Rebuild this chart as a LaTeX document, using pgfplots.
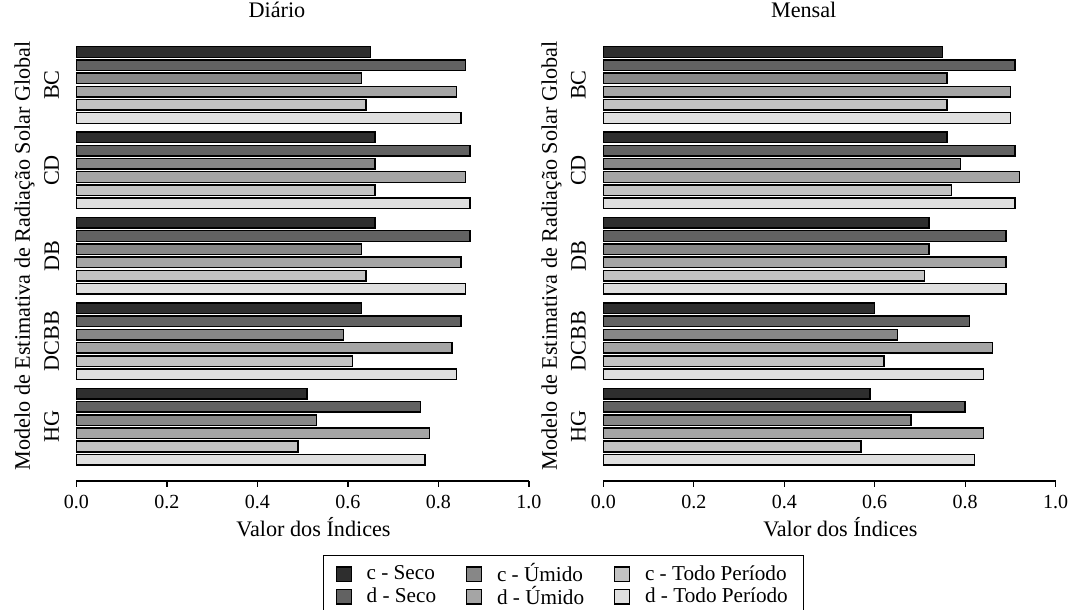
\documentclass[border=0pt]{standalone}
\usepackage{fontspec}
\setmainfont{Liberation Serif}
\usepackage{pgfplots}
\pgfplotsset{compat=1.18}
\usepackage{pgfplotstable}

\definecolor{cS}{HTML}{2E2E2E}
\definecolor{dS}{HTML}{626262}
\definecolor{cU}{HTML}{878787}
\definecolor{dU}{HTML}{A5A5A5}
\definecolor{cT}{HTML}{C3C3C3}
\definecolor{dT}{HTML}{DFDFDF}

\newcommand\lab{\fontsize{11.1}{13.3}\selectfont}
\newcommand\tck{\fontsize{10}{12}\selectfont}
\newcommand\leg{\fontsize{10.6}{12.7}\selectfont}

% y: 4=BC, 3=CD, 2=DB, 1=DCBB, 0=HG
\pgfplotstableread{
y cS dS cU dU cT dT
4 0.65 0.86 0.63 0.84 0.64 0.85
3 0.66 0.87 0.66 0.86 0.66 0.87
2 0.66 0.87 0.63 0.85 0.64 0.86
1 0.63 0.85 0.59 0.83 0.61 0.84
0 0.51 0.76 0.53 0.78 0.49 0.77
}\diario

\pgfplotstableread{
y cS dS cU dU cT dT
4 0.75 0.91 0.76 0.90 0.76 0.90
3 0.76 0.91 0.79 0.92 0.77 0.91
2 0.72 0.89 0.72 0.89 0.71 0.89
1 0.60 0.81 0.65 0.86 0.62 0.84
0 0.59 0.80 0.68 0.84 0.57 0.82
}\mensal

\pgfplotsset{
  panel/.style={
    xbar, scale only axis, width=226.2pt, height=225.15pt,
    anchor=south west,
    xmin=0, xmax=1, ymin=-0.636, ymax=4.636, clip=false,
    axis lines*=left,
    y axis line style={draw=none},
    x axis line style={line width=0.7pt},
    xtick={0,0.2,0.4,0.6,0.8,1},
    xticklabels={0.0,0.2,0.4,0.6,0.8,1.0},
    tick align=outside, major tick length=3pt,
    xtick style={black, line width=0.7pt},
    ytick={0,1,2,3,4},
    yticklabels={HG,DCBB,DB,CD,BC},
    ytick style={draw=none},
    yticklabel style={xshift=-5.5pt, rotate=90, anchor=south, inner sep=0pt, font=\lab},
    xticklabel style={anchor=base, yshift=-11pt, inner sep=0pt, font=\tck},
    bar width=0.124,
    ylabel={Modelo de Estimativa de Radiação Solar Global},
    ylabel style={at={(axis description cs:-0.1028,0.5)}, anchor=base, font=\lab},
    xlabel={Valor dos Índices},
    xlabel style={at={(axis description cs:0.524,0)}, anchor=base, yshift=-28pt, font=\lab},
    title style={at={(axis description cs:0.443,1)}, anchor=base, yshift=0.6pt, font=\lab},
  },
  sbar/.style={draw=black, line width=0.75pt, fill=#1, forget plot},
}

\begin{document}
\begin{tikzpicture}
\path[use as bounding box] (0,0) rectangle (536.5pt,305pt);

\begin{axis}[panel, at={(38.25pt,64.5pt)}, title={Diário},
  legend style={at={(0.5454,-0.165)}, anchor=north west, draw=black,
    line width=0.5pt, font=\leg, inner xsep=6pt, inner ysep=2pt,
    row sep=-3.5pt,
    /tikz/every even column/.append style={column sep=13pt},
    /tikz/every odd column/.append style={column sep=5.5pt}},
  legend columns=3, legend cell align=left,
  legend image code/.code={\draw[#1, line width=0.55pt] (0pt,-3.7pt) rectangle (7.4pt,3.7pt);}
]
\addplot[sbar=cS, bar shift=0.3865]  table[x=cS, y=y] {\diario};
\addplot[sbar=dS, bar shift=0.2319]  table[x=dS, y=y] {\diario};
\addplot[sbar=cU, bar shift=0.0773]  table[x=cU, y=y] {\diario};
\addplot[sbar=dU, bar shift=-0.0773] table[x=dU, y=y] {\diario};
\addplot[sbar=cT, bar shift=-0.2319] table[x=cT, y=y] {\diario};
\addplot[sbar=dT, bar shift=-0.3865] table[x=dT, y=y] {\diario};
\addlegendimage{fill=cS, draw=black}\addlegendentry{c - Seco}
\addlegendimage{fill=cU, draw=black}\addlegendentry{c - Úmido}
\addlegendimage{fill=cT, draw=black}\addlegendentry{c - Todo Período}
\addlegendimage{fill=dS, draw=black}\addlegendentry{d - Seco}
\addlegendimage{fill=dU, draw=black}\addlegendentry{d - Úmido}
\addlegendimage{fill=dT, draw=black}\addlegendentry{d - Todo Período}
\end{axis}

\begin{axis}[panel, at={(301.65pt,64.5pt)}, title={Mensal}]
\addplot[sbar=cS, bar shift=0.3865]  table[x=cS, y=y] {\mensal};
\addplot[sbar=dS, bar shift=0.2319]  table[x=dS, y=y] {\mensal};
\addplot[sbar=cU, bar shift=0.0773]  table[x=cU, y=y] {\mensal};
\addplot[sbar=dU, bar shift=-0.0773] table[x=dU, y=y] {\mensal};
\addplot[sbar=cT, bar shift=-0.2319] table[x=cT, y=y] {\mensal};
\addplot[sbar=dT, bar shift=-0.3865] table[x=dT, y=y] {\mensal};
\end{axis}
\end{tikzpicture}
\end{document}
